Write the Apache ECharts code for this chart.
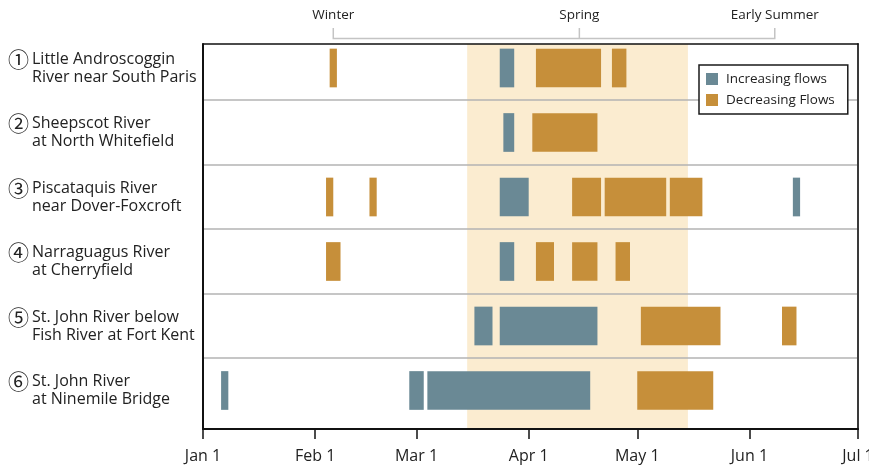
<!DOCTYPE html>
<html>
<head>
    <meta charset="utf-8">
    <title>Flow timing</title>
    <script src="https://cdn.jsdelivr.net/npm/echarts@6/dist/echarts.min.js"></script>
    <style>
        html, body { margin: 0; padding: 0; background: #ffffff; }
        #chart { width: 869px; height: 472px; }
    </style>
</head>
<body>
<div id="chart"></div>
<script>
    // rows (top to bottom)
    var rowMarks = ['①', '②', '③', '④', '⑤', '⑥'];
    var rowNames = [
        ['Little Androscoggin', 'River near South Paris'],
        ['Sheepscot River', 'at North Whitefield'],
        ['Piscataquis River', 'near Dover-Foxcroft'],
        ['Narraguagus River', 'at Cherryfield'],
        ['St. John River below', 'Fish River at Fort Kent'],
        ['St. John River', 'at Ninemile Bridge']
    ];

    // [row, start, end]
    var increasing = [
        [0, '2019-03-24', '2019-03-28'],
        [1, '2019-03-25', '2019-03-28'],
        [2, '2019-03-24', '2019-04-01'],
        [2, '2019-06-13', '2019-06-15'],
        [3, '2019-03-24', '2019-03-28'],
        [4, '2019-03-17', '2019-03-22'],
        [4, '2019-03-24', '2019-04-20'],
        [5, '2019-01-06', '2019-01-08'],
        [5, '2019-02-27', '2019-03-03'],
        [5, '2019-03-04', '2019-04-18']
    ];
    var decreasing = [
        [0, '2019-02-05', '2019-02-07'],
        [0, '2019-04-03', '2019-04-21'],
        [0, '2019-04-24', '2019-04-28'],
        [1, '2019-04-02', '2019-04-20'],
        [2, '2019-02-04', '2019-02-06'],
        [2, '2019-02-16', '2019-02-18'],
        [2, '2019-04-13', '2019-04-21'],
        [2, '2019-04-22', '2019-05-09'],
        [2, '2019-05-10', '2019-05-19'],
        [3, '2019-02-04', '2019-02-08'],
        [3, '2019-04-03', '2019-04-08'],
        [3, '2019-04-13', '2019-04-20'],
        [3, '2019-04-25', '2019-04-29'],
        [4, '2019-05-02', '2019-05-24'],
        [4, '2019-06-10', '2019-06-14'],
        [5, '2019-05-01', '2019-05-22']
    ];

    var springBand = ['2019-03-15', '2019-05-15'];
    var seasons = ['Winter', 'Spring', 'Early Summer'];
    var seasonDates = ['2019-02-06', '2019-04-15', '2019-06-08'];
    var tickDates = ['2019-01-01', '2019-02-01', '2019-03-01', '2019-04-01', '2019-05-01', '2019-06-01', '2019-07-01'];
    var tickLabels = ['Jan 1', 'Feb 1', 'Mar 1', 'Apr 1', 'May 1', 'Jun 1', 'Jul 1'];

    var FONT = '"Open Sans", sans-serif';

    // x axis works in days since Jan 1
    function toDay(s) {
        var p = s.split('-');
        return Math.round((Date.UTC(+p[0], +p[1] - 1, +p[2]) - Date.UTC(+p[0], 0, 1)) / 86400000);
    }
    function toItems(list) {
        return list.map(function (d) {
            return [toDay(d[1]), toDay(d[2]), d[0]];
        });
    }
    var tickDays = tickDates.map(toDay);

    function renderBar(params, api) {
        var s = api.coord([api.value(0), api.value(2)]);
        var e = api.coord([api.value(1), api.value(2)]);
        var h = api.size([0, 1])[1] * 0.6;
        return {
            type: 'rect',
            shape: {x: s[0], y: s[1] - h / 2, width: e[0] - s[0], height: h},
            style: api.style()
        };
    }

    var chart = echarts.init(document.getElementById('chart'));

    var option = {
        animation: false,
        textStyle: {fontFamily: FONT},
        grid: {left: 203, right: 11, top: 44, bottom: 43, outerBoundsMode: 'none', containLabel: false},
        legend: {
            data: ['Increasing flows', 'Decreasing Flows'],
            z: 20,
            left: 699,
            top: 65,
            orient: 'vertical',
            icon: 'rect',
            itemWidth: 12,
            itemHeight: 12,
            itemGap: 7,
            padding: [7, 13, 7, 7],
            backgroundColor: '#ffffff',
            borderColor: '#1a1a1a',
            borderWidth: 1.5,
            textStyle: {fontFamily: FONT, fontSize: 13.5, color: '#222', padding: [0, 0, 0, 3]}
        },
        xAxis: [{
            type: 'value',
            min: tickDays[0],
            max: tickDays[tickDays.length - 1],
            z: 5,
            axisLine: {onZero: false, lineStyle: {color: '#111', width: 2}},
            axisTick: {customValues: tickDays, length: 10, lineStyle: {color: '#111', width: 1.5}},
            axisLabel: {
                customValues: tickDays,
                margin: 19,
                fontSize: 16,
                color: '#222',
                fontFamily: FONT,
                formatter: function (v) {
                    var i = tickDays.indexOf(v);
                    return i >= 0 ? tickLabels[i] : '';
                }
            },
            splitLine: {show: false}
        }, {
            type: 'value',
            position: 'top',
            min: tickDays[0],
            max: tickDays[tickDays.length - 1],
            z: 5,
            axisLine: {onZero: false, lineStyle: {color: '#111', width: 1.5}},
            axisTick: {show: false},
            axisLabel: {show: false},
            splitLine: {show: false}
        }],
        yAxis: [{
            type: 'value',
            inverse: true,
            min: -0.372,
            max: 5.597,
            z: 5,
            axisLine: {show: true, onZero: false, lineStyle: {color: '#111', width: 2}},
            axisTick: {show: false},
            splitLine: {show: false},
            axisLabel: {
                customValues: [0, 1, 2, 3, 4, 5],
                align: 'left',
                margin: 195,
                color: '#222',
                formatter: function (v) {
                    var n = rowNames[v];
                    if (!n) return '';
                    return '{m|' + rowMarks[v] + '}{t|' + n[0] + '}\n{p|}{t|' + n[1] + '}';
                },
                rich: {
                    m: {fontFamily: '"Noto Sans CJK JP"', fontSize: 21, width: 24, lineHeight: 18, color: '#222'},
                    t: {fontFamily: FONT, fontSize: 16, lineHeight: 18, color: '#222'},
                    p: {width: 24, lineHeight: 18}
                }
            }
        }, {
            type: 'value',
            position: 'right',
            inverse: true,
            min: -0.372,
            max: 5.597,
            z: 5,
            axisLine: {show: true, onZero: false, lineStyle: {color: '#3a3a3a', width: 2}},
            axisTick: {show: false},
            axisLabel: {show: false},
            splitLine: {show: false}
        }],
        series: [
            {
                name: 'band',
                type: 'line',
                data: [],
                z: 1,
                silent: true,
                markArea: {
                    silent: true,
                    itemStyle: {color: '#fbecd0'},
                    data: [[{xAxis: toDay(springBand[0])}, {xAxis: toDay(springBand[1])}]]
                }
            },
            {
                name: 'rows',
                type: 'line',
                data: [],
                z: 2,
                silent: true,
                markLine: {
                    silent: true,
                    symbol: 'none',
                    label: {show: false},
                    lineStyle: {color: '#b3b3b3', width: 1.5, type: 'solid'},
                    data: [{yAxis: 0.5}, {yAxis: 1.5}, {yAxis: 2.5}, {yAxis: 3.5}, {yAxis: 4.5}]
                }
            },
            {
                name: 'Increasing flows',
                type: 'custom',
                z: 3,
                renderItem: renderBar,
                itemStyle: {color: '#6a8995'},
                encode: {x: [0, 1], y: 2},
                data: toItems(increasing)
            },
            {
                name: 'Decreasing Flows',
                type: 'custom',
                z: 3,
                renderItem: renderBar,
                itemStyle: {color: '#c68f3a'},
                encode: {x: [0, 1], y: 2},
                data: toItems(decreasing)
            }
        ]
    };
    chart.setOption(option);

    // season brackets above the plot
    var xs = seasonDates.map(function (d) {
        return chart.convertToPixel({xAxisIndex: 0}, toDay(d));
    });
    var g = [{
        type: 'polyline',
        shape: {points: [[xs[0], 28], [xs[0], 38.5], [xs[2], 38.5], [xs[2], 28]]},
        style: {stroke: '#c4c4c4', lineWidth: 1.5, fill: null}
    }, {
        type: 'line',
        shape: {x1: xs[1], y1: 28, x2: xs[1], y2: 38.5},
        style: {stroke: '#c4c4c4', lineWidth: 1.5}
    }];
    seasons.forEach(function (s, i) {
        g.push({
            type: 'text',
            x: xs[i],
            y: 15,
            style: {text: s, fontFamily: FONT, fontSize: 13.5, fill: '#222', align: 'center', verticalAlign: 'middle'}
        });
    });
    chart.setOption({graphic: g});

    window.onresize = function () {
        chart.resize();
    };
</script>
</body>
</html>
